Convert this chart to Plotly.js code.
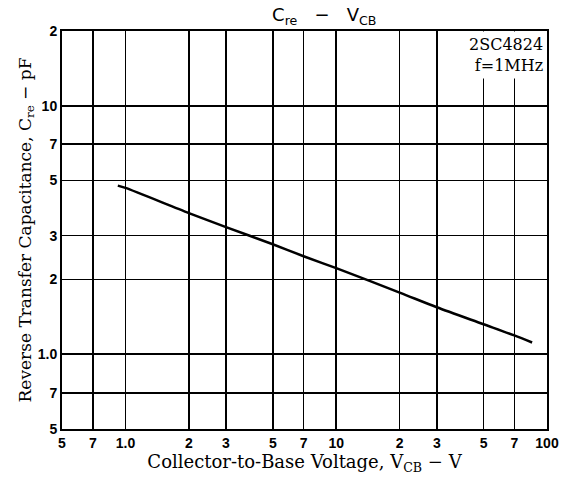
<!DOCTYPE html>
<html>
<head>
<meta charset="utf-8">
<script src="https://cdn.plot.ly/plotly-3.0.1.min.js"></script>
<style>html,body{margin:0;padding:0;background:#fff;}#chart{width:567px;height:481px;}</style>
</head>
<body>
<div id="chart"></div>
<script>
// Data
const vcb = [0.92, 1, 2, 3, 5, 7, 10, 20, 30, 50, 70, 85];
const cre = [4.77, 4.67, 3.70, 3.25, 2.77, 2.48, 2.22, 1.77, 1.545, 1.32, 1.19, 1.115];

// Axis ticks
const xTickVals = [0.5, 0.7, 1, 2, 3, 5, 7, 10, 20, 30, 50, 70, 100];
const xTickText = ["5", "7", "1.0", "2", "3", "5", "7", "10", "2", "3", "5", "7", "100"];
const yTickVals = [0.5, 0.7, 1, 2, 3, 5, 7, 10, 20];
const yTickText = ["5", "7", "1.0", "2", "3", "5", "7", "10", "2"];

const traces = [{
  x: vcb, y: cre, type: 'scatter', mode: 'lines',
  line: {color: '#000', width: 2.5, shape: 'spline', smoothing: 0.8}, hoverinfo: 'skip', showlegend: false
}];

const tickFont = {family: 'Liberation Sans, Arial, sans-serif', size: 14, color: '#000', weight: 'bold'};
const serif = 'DejaVu Serif, Liberation Serif, serif';

const layout = {
  width: 567, height: 481,
  margin: {l: 62, r: 20, t: 31, b: 52},
  paper_bgcolor: '#fff', plot_bgcolor: '#fff',
  showlegend: false,
  title: {
    text: 'C<sub>re</sub>   −   V<sub>CB</sub>',
    font: {family: 'DejaVu Sans, sans-serif', size: 18, color: '#000'},
    x: 0.572, xanchor: 'center', y: 0.982, yanchor: 'top'
  },
  xaxis: {
    type: 'log', range: [Math.log10(0.5), Math.log10(100)],
    tickmode: 'array', tickvals: xTickVals, ticktext: xTickText,
    ticks: '', showgrid: true, gridcolor: '#000', gridwidth: 1.6,
    showline: true, linecolor: '#000', linewidth: 2, mirror: true,
    zeroline: false, tickfont: tickFont,
    title: {text: 'Collector-to-Base Voltage, V<sub>CB</sub> − V',
            font: {family: serif, size: 18, color: '#000'}, standoff: 4}
  },
  yaxis: {
    type: 'log', range: [Math.log10(0.5), Math.log10(20)],
    tickmode: 'array', tickvals: yTickVals, ticktext: yTickText,
    ticks: '', showgrid: true, gridcolor: '#000', gridwidth: 1.6,
    showline: true, linecolor: '#000', linewidth: 2, mirror: true,
    zeroline: false, tickfont: tickFont,
    title: {text: 'Reverse Transfer Capacitance, C<sub>re</sub> − pF',
            font: {family: serif, size: 17, color: '#000'}, standoff: 2}
  },
  annotations: [{
    xref: 'paper', yref: 'paper', x: 1, y: 1, xanchor: 'right', yanchor: 'top',
    text: '2SC4824<br>f=1MHz', align: 'right', showarrow: false,
    font: {family: serif, size: 16, color: '#000'},
    bgcolor: '#fff', borderpad: 3
  }]
};

Plotly.newPlot('chart', traces, layout, {staticPlot: true, displayModeBar: false});
</script>
</body>
</html>
